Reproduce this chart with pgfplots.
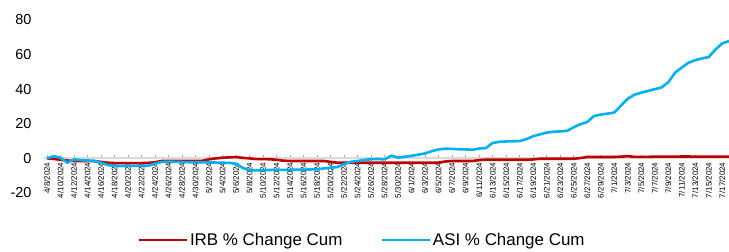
\documentclass[border=0pt]{standalone}
\usepackage{pgfplots}
\usepackage{pgfplotstable}
\pgfplotsset{compat=1.18}
\usepackage{fontspec}
\setmainfont{Liberation Sans}
\definecolor{irbred}{HTML}{C00000}
\definecolor{asiblue}{HTML}{00B0F0}
\definecolor{zeroline}{HTML}{D9D9D9}

\pgfplotstableread{
x irb asi
0 0 0
1 -0.3 1.3
2 -0.8 0.4
3 -1.2 -2.5
4 -1.5 -0.6
5 -1.5 -1.0
6 -1.5 -1.2
7 -1.6 -1.4
8 -2.0 -2.5
9 -2.5 -3.8
10 -2.7 -4.4
11 -2.7 -4.4
12 -2.7 -4.4
13 -2.7 -4.3
14 -2.7 -4.3
15 -2.6 -4.2
16 -2.2 -3.1
17 -1.5 -2.0
18 -1.5 -1.9
19 -1.5 -2.0
20 -1.5 -2.1
21 -1.5 -2.2
22 -1.5 -2.2
23 -1.4 -2.3
24 -0.5 -2.3
25 0.0 -2.4
26 0.4 -2.5
27 0.6 -2.6
28 0.8 -3.1
29 0.3 -5.5
30 0.0 -6.8
31 -0.4 -6.9
32 -0.4 -6.8
33 -0.5 -6.7
34 -0.8 -6.6
35 -1.3 -6.6
36 -1.5 -6.6
37 -1.5 -6.5
38 -1.5 -6.5
39 -1.5 -6.4
40 -1.5 -6.3
41 -1.5 -5.8
42 -2.0 -5.4
43 -2.5 -5.0
44 -2.5 -3.3
45 -2.5 -2.0
46 -2.5 -1.5
47 -2.5 -0.9
48 -2.5 -0.5
49 -2.5 -0.3
50 -2.5 -0.6
51 -2.5 1.6
52 -2.5 0.4
53 -2.5 1.0
54 -2.5 1.5
55 -2.5 2.2
56 -2.5 2.9
57 -2.5 4.2
58 -2.4 5.2
59 -1.8 5.6
60 -1.5 5.5
61 -1.5 5.3
62 -1.5 5.2
63 -1.5 5.0
64 -1.0 5.7
65 -0.7 6.0
66 -0.8 8.9
67 -0.8 9.6
68 -0.8 9.8
69 -0.8 9.9
70 -0.8 10.0
71 -0.8 11.2
72 -0.6 12.8
73 -0.2 13.9
74 -0.2 14.9
75 -0.2 15.4
76 -0.2 15.6
77 -0.2 15.9
78 -0.2 18.0
79 0.2 19.8
80 0.8 21.0
81 0.8 24.5
82 0.8 25.3
83 0.8 25.9
84 0.8 26.5
85 1.0 30.5
86 1.3 34.5
87 0.9 36.8
88 0.9 38.0
89 0.9 39.0
90 1.0 40.0
91 1.0 41.0
92 1.0 44.0
93 1.0 49.5
94 1.1 52.5
95 1.1 55.3
96 1.0 56.8
97 1.0 57.8
98 1.0 58.6
99 1.0 63.0
100 1.0 66.5
101 1.0 67.8
}\datatable

\begin{document}
\begin{tikzpicture}
\begin{axis}[
  at={(43.6bp,59bp)}, anchor=south west,
  scale only axis,
  width=685.4bp, height=173bp,
  xmin=-0.5, xmax=101,
  ymin=-20, ymax=80,
  axis x line*=middle,
  axis y line*=left,
  x axis line style={draw=zeroline, line width=2bp},
  y axis line style={draw=none},
  ytick={-20,0,20,40,60,80},
  ytick style={draw=none},
  xtick={0,2,...,100},
  xtick style={draw=gray!70, line width=0.6bp},
  major tick length=3bp,
  xticklabels={4/8/2024,4/10/2024,4/12/2024,4/14/2024,4/16/2024,4/18/2024,4/20/2024,4/22/2024,4/24/2024,4/26/2024,4/28/2024,4/30/2024,5/2/2024,5/4/2024,5/6/2024,5/8/2024,5/10/2024,5/12/2024,5/14/2024,5/16/2024,5/18/2024,5/20/2024,5/22/2024,5/24/2024,5/26/2024,5/28/2024,5/30/2024,6/1/2024,6/3/2024,6/5/2024,6/7/2024,6/9/2024,6/11/2024,6/13/2024,6/15/2024,6/17/2024,6/19/2024,6/21/2024,6/23/2024,6/25/2024,6/27/2024,6/29/2024,7/1/2024,7/3/2024,7/5/2024,7/7/2024,7/9/2024,7/11/2024,7/13/2024,7/15/2024,7/17/2024},
  xticklabel style={rotate=90, anchor=east, inner sep=0pt, font=\fontsize{8}{9}\selectfont},
  xticklabel shift=4bp,
  yticklabel style={anchor=east, inner sep=0pt, xshift=-12bp, font=\fontsize{14.5}{16}\selectfont},
  /pgf/number format/assume math mode=true,
  clip=false,
  legend style={draw=none, at={(0.4646,-0.272)}, anchor=center, legend columns=2,
    font=\fontsize{17}{20}\selectfont,
    /tikz/every even column/.append style={column sep=36bp}},
  legend image code/.code={\draw[#1, line width=2.5bp] (0bp,0bp) -- (48bp,0bp);},
]
\addplot[irbred, line width=2.6bp, line join=round, no markers] table[x=x, y=irb] {\datatable};
\addlegendentry{IRB \% Change Cum}
\addplot[asiblue, line width=2.6bp, line join=round, no markers] table[x=x, y=asi] {\datatable};
\addlegendentry{ASI \% Change Cum}
\end{axis}
\pgfresetboundingbox
\path (0,0) rectangle (729bp,252bp);
\end{tikzpicture}
\end{document}
